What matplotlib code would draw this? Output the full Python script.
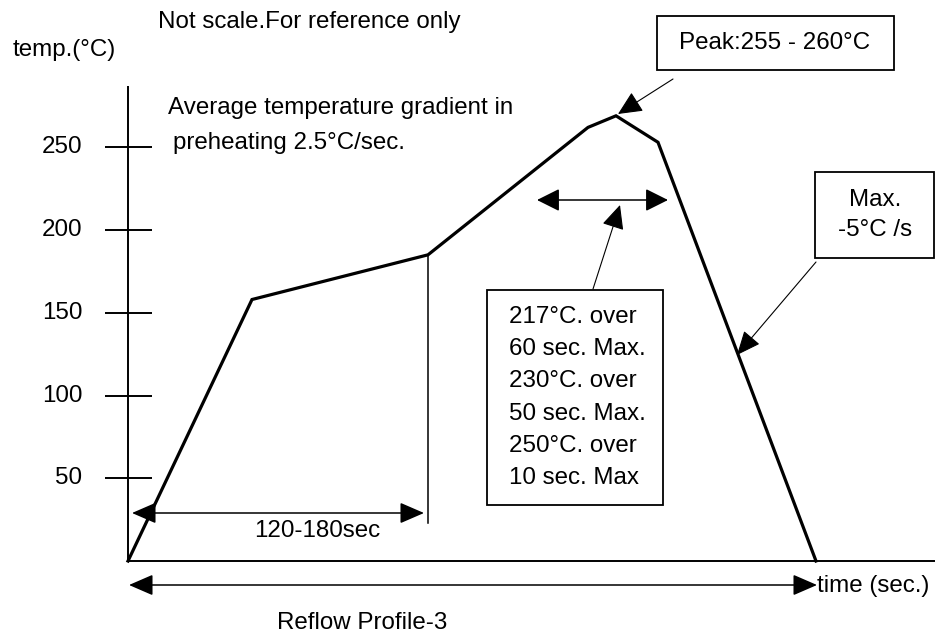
import matplotlib
matplotlib.use("Agg")
import matplotlib.pyplot as plt
from matplotlib.patches import Rectangle

# ---- data ----
profile_time = [0, 62, 150, 230, 244, 265, 344]      # sec (schematic)
profile_temp = [0, 158, 185, 262, 269, 253, 0]       # degC
ytick_values = [50, 100, 150, 200, 250]
ytick_labels = ["50", "100", "150", "200", "250"]
box_lines = ["217°C. over", "60 sec. Max.", "230°C. over",
             "50 sec. Max.", "250°C. over", "10 sec. Max"]

W, H = 935, 637
fig = plt.figure(figsize=(W / 100, H / 100), dpi=100)
ax = fig.add_axes([0, 0, 1, 1])
ax.set_axis_off()

# pixel <-> data mapping (layout only)
X0, SX = 128, 2.0      # pixel of t=0, px per sec
Y0, SY = 561, 1.655    # pixel of 0 degC, px per degC
ax.set_xlim((0 - X0) / SX, (W - X0) / SX)
ax.set_ylim((Y0 - H) / SY, Y0 / SY)


def P(px, py):
    return ((px - X0) / SX, (Y0 - py) / SY)


FONT = "Liberation Sans"
FS = 17.4
plt.rcParams["font.family"] = [FONT, "DejaVu Sans"]

# axes lines
ax.plot([0, 0], [P(0, 86)[1], 0], color="black", lw=1.4, solid_capstyle="butt")
ax.plot([0, P(W, 0)[0]], [0, 0], color="black", lw=1.4, solid_capstyle="butt")

# y ticks
tl, tr = P(105, 0)[0], P(152, 0)[0]
for v, lab in zip(ytick_values, ytick_labels):
    ax.plot([tl, tr], [v, v], color="black", lw=1.4, solid_capstyle="butt")
    ax.text(P(82, 0)[0], v, lab, ha="right", va="center", fontsize=FS)

# profile
ax.plot(profile_time, profile_temp, color="black", lw=2.3,
        solid_joinstyle="miter")

# vertical line at end of preheat
ax.plot([profile_time[2], profile_time[2]], [profile_temp[2], P(0, 523)[1]],
        color="black", lw=1.1)


def arrow(p_from, p_to, style="-|>", lw=1.1, hl=14, hw=7):
    ax.annotate("", xy=P(*p_to), xytext=P(*p_from),
                arrowprops=dict(arrowstyle=f"{style},head_length={hl},head_width={hw}",
                                mutation_scale=1, lw=lw, color="black",
                                shrinkA=0, shrinkB=0))


# 120-180 sec
arrow((424, 513), (132, 513), style="<|-|>", hl=15, hw=6.5)
ax.text(*P(317, 531), "120-180sec", ha="center", va="center", fontsize=FS)

# bottom arrow
arrow((129, 585), (817, 585), style="<|-|>", hl=15, hw=6.5)
ax.text(*P(817, 586), "time (sec.)", ha="left", va="center", fontsize=FS)
ax.text(*P(362, 623), "Reflow Profile-3", ha="center", va="center", fontsize=FS)

# top texts
ax.text(*P(158, 22), "Not scale.For reference only", ha="left", va="center", fontsize=FS)
ax.text(*P(13, 50), "temp.(°C)", ha="left", va="center", fontsize=FS)
ax.text(*P(168, 108), "Average temperature gradient in", ha="left", va="center", fontsize=FS)
ax.text(*P(173, 143), "preheating 2.5°C/sec.", ha="left", va="center", fontsize=FS)


def box(x1, y1, x2, y2):
    a = P(x1, y2)
    b = P(x2, y1)
    ax.add_patch(Rectangle(a, b[0] - a[0], b[1] - a[1], fill=False,
                           edgecolor="black", lw=1.3))


# peak box
box(657, 16, 894, 70)
ax.text(*P(775, 43), "Peak:255 - 260°C", ha="center", va="center", fontsize=FS)
arrow((673, 79), (618, 114), lw=0.8, hl=15, hw=7)

# max box
box(815, 172, 934, 258)
ax.text(*P(875, 200), "Max.", ha="center", va="center", fontsize=FS)
ax.text(*P(875, 230), "-5°C /s", ha="center", va="center", fontsize=FS)
arrow((816, 262), (737, 355), lw=0.8, hl=15, hw=6.5)

# time above liquidus arrow
arrow((537, 200), (668, 200), style="<|-|>", hl=14, hw=7)
arrow((593, 289), (620, 205), lw=0.8, hl=15, hw=7)

# conditions box
box(487, 290, 663, 505)
for i, line in enumerate(box_lines):
    ax.text(*P(509, 317 + i * 32.2), line, ha="left", va="center", fontsize=FS)

fig.savefig("out.png", dpi=100)
